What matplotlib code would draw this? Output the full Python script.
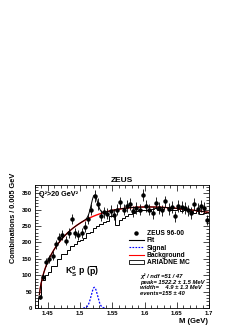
import numpy as np
import matplotlib.pyplot as plt
from matplotlib.lines import Line2D
from matplotlib.patches import Patch
from matplotlib.ticker import MultipleLocator

plt.rcParams["font.family"] = ["Liberation Sans", "DejaVu Sans"]
plt.rcParams["font.weight"] = "bold"
plt.rcParams["mathtext.fontset"] = "custom"
plt.rcParams["mathtext.rm"] = "Liberation Sans:bold"
plt.rcParams["mathtext.it"] = "Liberation Sans:bold:italic"
plt.rcParams["mathtext.bf"] = "Liberation Sans:bold"

# binning: 0.005 GeV bins from 1.435 to 1.7 GeV
bin_lo = 1.435
bin_width = 0.005
n_bins = 53

# ZEUS 96-00 data (combinations per bin) and errors
data = [35, 95, 140, 150, 160, 195, 215, 222, 205, 230,
        272, 228, 222, 228, 248, 272, 300, 342, 318, 282,
        292, 288, 296, 284, 300, 322,
        300, 312, 318, 295, 305, 300, 345, 312, 300, 290,
        320, 305, 298, 325, 302, 308, 280, 312, 308, 305,
        298, 290, 318, 303, 310, 305, 268]
data_err = [6, 10, 12, 12, 13, 14, 15, 15, 14, 15,
            16, 15, 15, 15, 16, 16, 17, 18, 18, 17,
            17, 17, 17, 17, 17, 18,
            17, 18, 18, 17, 17, 17, 19, 18, 17, 17,
            18, 17, 17, 18, 17, 18, 17, 18, 18, 17,
            17, 17, 18, 17, 18, 17, 16]

# ARIADNE MC histogram
mc = [30, 85, 100, 110, 128, 128, 150, 165, 165, 178,
      188, 195, 205, 208, 215, 228, 232, 245, 250, 255,
      262, 265, 280, 282, 252, 270, 275, 280, 288, 290,
      295, 298, 300, 300, 296, 302, 305, 300, 302, 307,
      305, 298, 300, 302, 295, 298, 300, 296, 290, 295,
      288, 290, 292]

# fit results: background A*(M-Mth)^B*exp(C*(M-Mth)) + Gaussian signal
m_threshold = 1.4359
bg_pars = [1218.0, 0.4956, -2.915]
peak = 1.5222
width = 0.0049
events = 155

edges = bin_lo + bin_width * np.arange(n_bins + 1)
centers = 0.5 * (edges[:-1] + edges[1:])


def background(m):
    d = m - m_threshold
    return bg_pars[0] * d ** bg_pars[1] * np.exp(bg_pars[2] * d)


def signal(m):
    amp = events * bin_width / (np.sqrt(2 * np.pi) * width)
    return amp * np.exp(-0.5 * ((m - peak) / width) ** 2)


fig = plt.figure(figsize=(2.53, 3.27), dpi=100)
ax = fig.add_axes([0.138, 0.058, 0.688, 0.376])

m_fit = np.linspace(1.437, 1.7, 400)
m_sig = np.linspace(1.505, 1.54, 200)

ax.stairs(mc, edges, baseline=0, color="black", lw=0.7)
ax.plot(m_fit, background(m_fit), color="red", lw=1.0)
ax.plot(m_fit, background(m_fit) + signal(m_fit), color="black", lw=0.7)
ax.plot(m_sig, signal(m_sig), color="blue", lw=0.9, ls=(0, (1.5, 1.2)))
ax.errorbar(centers, data, yerr=data_err, fmt="o", ms=2.2, color="black",
            elinewidth=0.6, capsize=0)

ax.set_xlim(1.43, 1.7)
ax.set_ylim(0, 375)
ax.xaxis.set_major_locator(MultipleLocator(0.05))
ax.xaxis.set_minor_locator(MultipleLocator(0.01))
ax.yaxis.set_major_locator(MultipleLocator(50))
ax.yaxis.set_minor_locator(MultipleLocator(10))
ax.set_xticks([1.45, 1.5, 1.55, 1.6, 1.65, 1.7])
ax.set_xticklabels(["1.45", "1.5", "1.55", "1.6", "1.65", "1.7"])
ax.tick_params(which="both", direction="in", top=True, right=True,
               labelsize=4.3, width=0.5, pad=2)
ax.tick_params(which="major", length=4)
ax.tick_params(which="minor", length=2)
for s in ax.spines.values():
    s.set_linewidth(0.6)

ax.set_title("ZEUS", fontsize=6, fontweight="bold", pad=2.5)
fig.text(0.052, 0.471, "Combinations / 0.005 GeV", rotation=90,
         ha="center", va="top", fontsize=5.3, fontweight="bold")
fig.text(0.822, 0.018, "M (GeV)", ha="right", va="center",
         fontsize=5.5, fontweight="bold")

ax.text(0.025, 0.92, "Q²>20 GeV²", transform=ax.transAxes,
        fontsize=5.2, fontweight="bold", va="center")
ax.text(0.17, 0.29, r"$\mathrm{K^0_S\ p\ (\overline{p})}$", transform=ax.transAxes,
        fontsize=6.3, va="center")

handles = [
    Line2D([], [], ls="none", marker="o", ms=2.2, color="black"),
    Line2D([], [], color="black", lw=0.8),
    Line2D([], [], color="blue", lw=0.8, ls=(0, (1.5, 1.2))),
    Line2D([], [], color="red", lw=0.8),
    Patch(facecolor="none", edgecolor="black", lw=0.6),
]
labels = ["ZEUS 96-00", "Fit", "Signal", "Background", "ARIADNE MC"]
ax.legend(handles, labels, loc="upper left", bbox_to_anchor=(0.53, 0.645),
          frameon=False, fontsize=4.8, handlelength=2.3, handletextpad=0.4,
          labelspacing=0.05, borderpad=0.2, borderaxespad=0)

stats = ["χ² / ndf =51 / 47",
         "peak= 1522.2 ± 1.5 MeV",
         "width=    4.9 ± 1.3 MeV",
         "events=155 ± 40"]
ax.text(0.605, 0.283, "\n".join(stats), transform=ax.transAxes,
        fontsize=4.2, fontstyle="italic", fontweight="bold",
        va="top", linespacing=1.15)

fig.savefig("out.png", dpi=100)
